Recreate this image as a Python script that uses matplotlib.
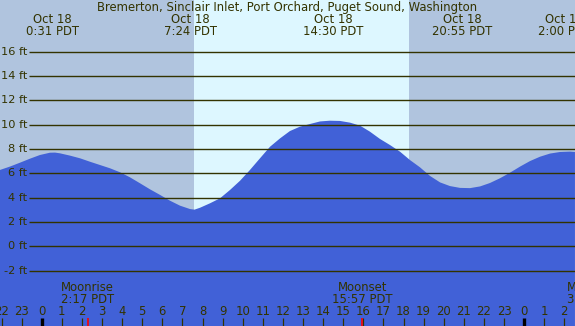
import matplotlib
matplotlib.use("Agg")
import matplotlib.pyplot as plt

# ---- data ----
title = "Bremerton, Sinclair Inlet, Port Orchard, Puget Sound, Washington"
tide_hours = [-2.08, -1.58, -1.08, -0.58, -0.09, 0.41, 0.66, 0.91, 1.41, 1.91, 2.40,
              2.90, 3.40, 3.90, 4.39, 4.89, 5.39, 5.89, 6.38, 6.88, 7.38, 7.60, 7.88,
              8.37, 8.87, 9.37, 9.87, 10.36, 10.86, 11.36, 11.86, 12.35, 12.85, 13.35,
              13.85, 14.34, 14.84, 15.34, 15.84, 16.33, 16.83, 17.33, 17.83, 18.32,
              18.82, 19.32, 19.82, 20.31, 20.81, 21.31, 21.81, 22.30, 22.80, 23.30,
              23.80, 24.29, 24.79, 25.29, 25.79, 26.28, 26.53]
tide_feet = [6.27, 6.55, 6.87, 7.20, 7.50, 7.69, 7.70, 7.64, 7.45, 7.23, 6.95,
             6.68, 6.41, 6.08, 5.67, 5.18, 4.68, 4.22, 3.75, 3.34, 3.06, 3.01, 3.17,
             3.53, 3.94, 4.63, 5.39, 6.27, 7.23, 8.18, 8.87, 9.47, 9.83, 10.05,
             10.26, 10.32, 10.30, 10.16, 9.91, 9.42, 8.82, 8.32, 7.77, 7.09,
             6.49, 5.78, 5.25, 4.95, 4.80, 4.78, 4.92, 5.20, 5.59, 6.05,
             6.55, 7.00, 7.36, 7.62, 7.75, 7.78, 7.75]
event_hours = [0.517, 7.40, 14.50, 20.917, 26.0]
event_dates = ["Oct 18", "Oct 18", "Oct 18", "Oct 18", "Oct 19"]
event_times = ["0:31 PDT", "7:24 PDT", "14:30 PDT", "20:55 PDT", "2:00 PDT"]
sunrise, sunset = 7.58, 18.27
moon_names = ["Moonrise", "Moonset", "Moonrise"]
moon_hours = [2.283, 15.95, 27.45]
moon_times = ["2:17 PDT", "15:57 PDT", "3:27 PDT"]
y_ticks = [-2, 0, 2, 4, 6, 8, 10, 12, 14, 16]
hour_ticks = list(range(-2, 27))

# ---- geometry (pixels) ----
W, H = 575, 326
x0px, pxh = 41.7, 20.1
y0px, pxft = 246.3, 12.17
xmin, xmax = -x0px / pxh, (W - x0px) / pxh
ymax, ymin = y0px / pxft, (y0px - H) / pxft

night = "#b0c4de"
day = "#ddf7ff"
water = "#4161d7"
ink = "#333300"

fig = plt.figure(figsize=(W / 100, H / 100), dpi=100)
ax = fig.add_axes([0, 0, 1, 1])
ax.set_xlim(xmin, xmax)
ax.set_ylim(ymin, ymax)
ax.axis("off")

ax.axvspan(xmin, sunrise, color=night, lw=0, zorder=0)
ax.axvspan(sunrise, sunset, color=day, lw=0, zorder=0)
ax.axvspan(sunset, xmax, color=night, lw=0, zorder=0)

ax.fill_between(tide_hours, tide_feet, ymin, color=water, lw=0, zorder=1)

fs = 8.4
gx0 = (29 - x0px) / pxh
ax.hlines(y_ticks, gx0, xmax, color=ink, lw=1.0, zorder=2)
for v in y_ticks:
    ax.text(gx0 - 0.07, v, f"{v} ft", ha="right", va="center", fontsize=fs - 0.2,
            color=ink, zorder=3)


def fy(px):
    return 1 - px / H


tx = ax.get_xaxis_transform()
fig.text(287 / W, fy(7.5), title, ha="center", va="center", fontsize=fs, color=ink)
for h, d, t in zip(event_hours, event_dates, event_times):
    ax.text(h, fy(19.5), d, ha="center", va="center", fontsize=fs, color=ink, transform=tx)
    ax.text(h, fy(31.5), t, ha="center", va="center", fontsize=fs, color=ink, transform=tx)

for n, h, t in zip(moon_names, moon_hours, moon_times):
    ax.text(h, fy(287.5), n, ha="center", va="center", fontsize=fs, color=ink, transform=tx)
    ax.text(h, fy(299.5), t, ha="center", va="center", fontsize=fs, color=ink, transform=tx)

for hr in hour_ticks:
    lab = hr % 24
    ax.text(hr, fy(311.5), str(lab), ha="center", va="center", fontsize=fs,
            color=ink, transform=tx)
    if lab == 0:
        ax.vlines(hr, 0, fy(318), color="black", lw=2.4, transform=tx, zorder=4)
    else:
        ax.vlines(hr, 0, fy(318), color=ink, lw=0.9, transform=tx, zorder=4)
for h in moon_hours[:2]:
    ax.vlines(h, 0, fy(318), color="red", lw=1.2, transform=tx, zorder=5)

fig.savefig("out.png", dpi=100)
